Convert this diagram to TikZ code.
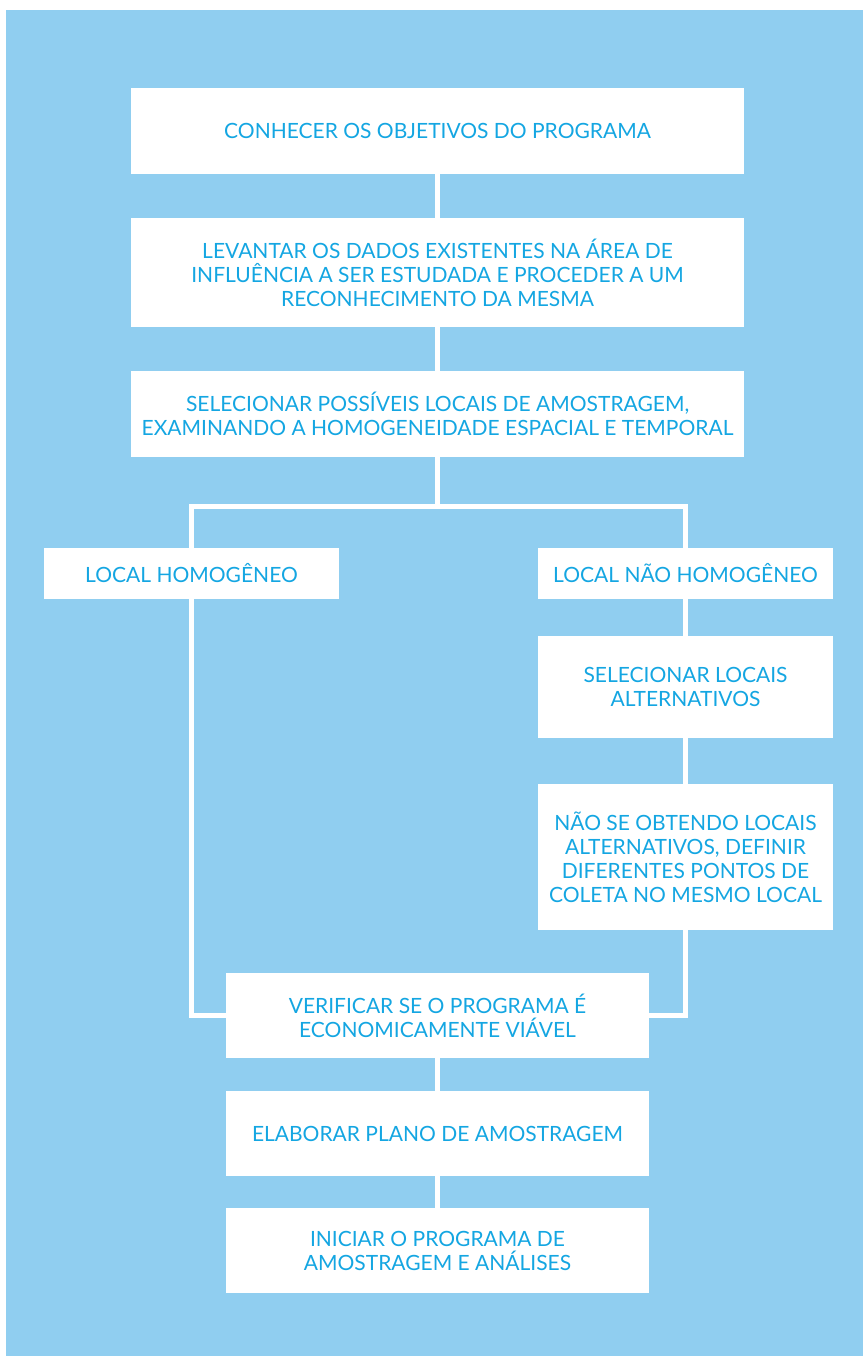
\documentclass[tikz,border=0pt]{standalone}
\usepackage{fontspec}
\setmainfont{Lato}
\usepackage{xcolor}
\usepackage{tikz}
\definecolor{fundo}{HTML}{90CEF0}
\definecolor{azultexto}{HTML}{14A6E2}
\tikzset{
	caixa/.style={fill=white, text=azultexto, align=center, inner sep=0pt,
		font=\fontsize{21}{24}\selectfont},
	linha/.style={draw=white, line width=5pt},
}
\begin{document}
\begin{tikzpicture}[x=1pt, y=-1pt]
		% Fundo azul
		\useasboundingbox (0,0) rectangle (863,1356);
		\fill[fundo] (6,10) rectangle (863,1356);
		
		% Caixas da coluna central
		\node[caixa, minimum width=613pt, minimum height=86pt] (objetivos) at (437.5,131) {CONHECER OS OBJETIVOS DO PROGRAMA};
		\node[caixa, minimum width=613pt, minimum height=109pt] (levantar) at (437.5,272.5) {LEVANTAR OS DADOS EXISTENTES NA ÁREA DE\\INFLUÊNCIA A SER ESTUDADA E PROCEDER A UM\\RECONHECIMENTO DA MESMA};
		\node[caixa, minimum width=613pt, minimum height=86pt] (selecionar) at (437.5,414) {SELECIONAR POSSÍVEIS LOCAIS DE AMOSTRAGEM,\\EXAMINANDO A HOMOGENEIDADE ESPACIAL E TEMPORAL};
		
		% Ramos
		\node[caixa, minimum width=295pt, minimum height=51pt] (homogeneo) at (191.5,573.5) {LOCAL HOMOGÊNEO};
		\node[caixa, minimum width=295pt, minimum height=51pt] (naohomogeneo) at (685.5,573.5) {LOCAL NÃO HOMOGÊNEO};
		\node[caixa, minimum width=295pt, minimum height=102pt] (alternativos) at (685.5,687) {SELECIONAR LOCAIS\\ALTERNATIVOS};
		\node[caixa, minimum width=295pt, minimum height=146pt] (pontos) at (685.5,857) {NÃO SE OBTENDO LOCAIS\\ALTERNATIVOS, DEFINIR\\DIFERENTES PONTOS DE\\COLETA NO MESMO LOCAL};
		
		% Caixas finais
		\node[caixa, minimum width=423pt, minimum height=85pt] (viavel) at (437.5,1015.5) {VERIFICAR SE O PROGRAMA É\\ECONOMICAMENTE VIÁVEL};
		\node[caixa, minimum width=423pt, minimum height=85pt] (plano) at (437.5,1133.5) {ELABORAR PLANO DE AMOSTRAGEM};
		\node[caixa, minimum width=423pt, minimum height=85pt] (iniciar) at (437.5,1250.5) {INICIAR O PROGRAMA DE\\AMOSTRAGEM E ANÁLISES};
		
		% Ligacoes
		\coordinate (ramo) at (437.5,506.5); % ponto da bifurcacao
		\draw[linha] (objetivos) -- (levantar);
		\draw[linha] (levantar) -- (selecionar);
		\draw[linha] (selecionar.south) -- (ramo);
		\draw[linha] (homogeneo.north) |- (ramo) -| (naohomogeneo.north);
		\draw[linha] (naohomogeneo) -- (alternativos);
		\draw[linha] (alternativos) -- (pontos);
		\draw[linha] (homogeneo.south) |- (viavel.west);
		\draw[linha] (pontos.south) |- (viavel.east);
		\draw[linha] (viavel) -- (plano);
		\draw[linha] (plano) -- (iniciar);
	\end{tikzpicture}
\end{document}
